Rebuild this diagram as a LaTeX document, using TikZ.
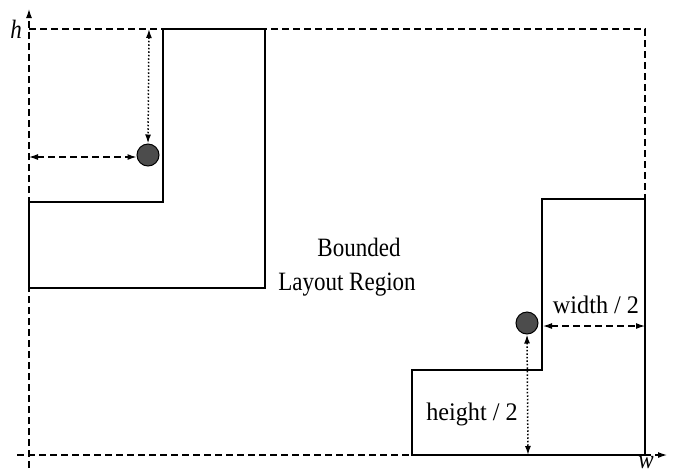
\documentclass[tikz,border=0pt]{standalone}
\usepackage{fontspec}
\setmainfont{Liberation Serif}
\newfontfamily\lblfont[FakeStretch=1.1]{Liberation Serif}
\usetikzlibrary{arrows.meta}
\newcommand{\tallt}[1]{\scalebox{1}[1.15]{#1}}
\begin{document}
\begin{tikzpicture}[x=1pt,y=-1pt,
  tip/.style={-{Latex[length=9pt,width=6pt]}},
  dtip/.style={{Latex[length=9pt,width=6pt]}-{Latex[length=9pt,width=6pt]}},
  dashline/.style={line width=1.2pt,dash pattern=on 7pt off 4pt},
  dotline/.style={line width=1.5pt,dash pattern=on 1.5pt off 2pt},
  shapeline/.style={line width=1.4pt},
  dotnode/.style={circle,draw=black,line width=1pt,fill=black!70,minimum size=22pt,inner sep=0pt},
  lbl/.style={font=\lblfont\fontsize{22}{24}\selectfont,inner sep=1pt},
  ctr/.style={font=\fontsize{23}{26}\selectfont,inner sep=1pt},
  axlbl/.style={font=\fontsize{23}{24}\selectfont\itshape,inner sep=0pt}]
\useasboundingbox (0,0) rectangle (681,475);
% axes and boundary
\coordinate (ytop) at (29,9);
\coordinate (ybot) at (29,468);
\coordinate (xl) at (17,455);
\coordinate (xr) at (667,455);
\coordinate (tl) at (29,29);
\coordinate (tr) at (645,29);
\coordinate (br) at (645,455);
\draw[dashline,tip] (ybot) -- (ytop);
\draw[dashline,tip] (xl) -- (xr);
\draw[dashline] (tl) -- (tr) -- (br);
\node[axlbl] (hl) at (16,29) {\tallt{h}};
\node[axlbl] (wl) at (646,463) {\tallt{w}};
% top-left L shape
\draw[shapeline,fill=white] (29,202) -- (163,202) -- (163,29) -- (265,29) -- (265,288) -- (29,288) -- cycle;
% bottom-right L shape
\draw[shapeline,fill=white] (412,455) -- (412,370) -- (542,370) -- (542,199) -- (645,199) -- (645,455) -- cycle;
% center text
\node[ctr] (txt1) at (359,247) {\tallt{Bounded}};
\node[ctr] (txt2) at (347,285) {\tallt{Layout Region}};
% top-left dot
\node[dotnode] (d1) at (148,155) {};
\coordinate (d1l) at (29,157);
\coordinate (d1t) at (149,29);
\draw[dashline,dtip] (d1l) -- (d1.west |- d1l);
\draw[dotline,dtip] (d1t) -- (d1.north);
% bottom-right dot
\node[dotnode] (d2) at (527,323) {};
\coordinate (w1) at (543,326);
\coordinate (w2) at (645,326);
\coordinate (hb) at (528,455);
\draw[dashline,dtip] (w1) -- (w2);
\draw[dotline,dtip] (d2.south) -- (hb);
\node[lbl] (wd) at (596,305) {\tallt{width / 2}};
\node[lbl] (ht) at (472,414) {\tallt{height / 2}};
\end{tikzpicture}
\end{document}
